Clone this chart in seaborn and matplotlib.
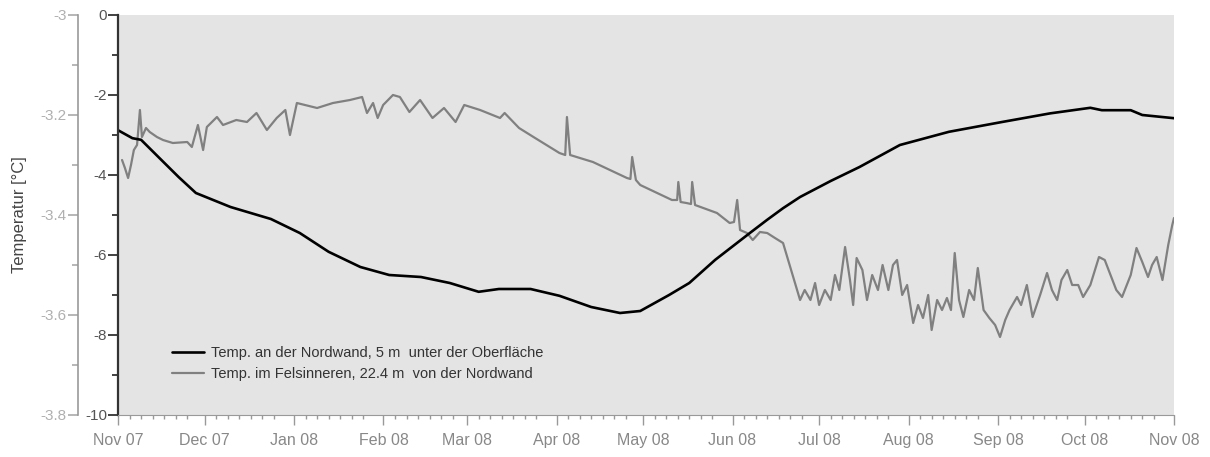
import pandas as pd
import matplotlib
matplotlib.use("Agg")
import matplotlib.pyplot as plt
import matplotlib.dates as mdates
from matplotlib.ticker import MultipleLocator
import seaborn as sns

start = pd.Timestamp("2007-11-01")

# Temp. an der Nordwand (linke innere Achse, 0 .. -10)
nord_days = [0, 5, 8, 14, 21, 27, 39, 53, 63, 73, 84, 94, 105, 115, 125, 132, 143,
             153, 164, 174, 181, 191, 198, 207, 219, 225, 230.5, 236.4, 247, 257,
             271, 288, 306, 323, 337, 341, 351, 355, 366]
nord_temp = [-2.88, -3.08, -3.12, -3.55, -4.05, -4.45, -4.8, -5.1, -5.45, -5.92, -6.3,
             -6.5, -6.55, -6.7, -6.92, -6.85, -6.85, -7.02, -7.3, -7.45, -7.4, -7.0,
             -6.7, -6.12, -5.45, -5.12, -4.83, -4.55, -4.15, -3.8, -3.25, -2.92, -2.68,
             -2.46, -2.32, -2.38, -2.38, -2.5, -2.58]

# Temp. im Felsinneren (linke äussere Achse, -3 .. -3.8)
fels_days = [1.4, 2.4, 3.5, 4.5, 5.5, 6.6, 7.6, 8.3, 9.7, 11, 13.5, 15.6, 19, 24, 25.6,
             27.7, 29.5, 30.8, 34.3, 36.4, 41, 44.7, 48, 51.6, 55, 58, 59.6, 62, 69,
             74.5, 80.4, 84.6, 86.3, 88.4, 90, 91.9, 95.3, 97.7, 101, 104.7, 109, 113,
             117, 120, 125.5, 132.4, 134, 139, 144, 153, 155, 155.6, 156.7, 164.6,
             176.4, 177.6, 178.2, 179.5, 181, 192, 193.8, 194.2, 195, 197, 198.6, 199,
             200, 207.6, 212, 213.5, 214.6, 215.6, 218, 220, 222.5, 225, 227.7, 230.5,
             234, 236.4, 238, 240, 241.6, 243, 245, 247, 248.5, 250, 252, 253.7, 254.8,
             256, 258, 259.6, 261.4, 263.4, 265, 267, 268.6, 270, 271.8, 273.5, 275.6,
             277.3, 279, 280.8, 282, 283.9, 285.6, 287.3, 288.7, 290, 291.5, 293, 295,
             296.7, 298, 300, 302, 304, 305.7, 307.5, 309, 311.6, 313, 315, 317, 319.6,
             322, 323.7, 325.5, 327, 329, 330.7, 332.8, 334.5, 337, 338.6, 340, 342,
             344, 346, 348, 351, 353, 355, 357, 358.4, 360, 362, 364, 365.4, 366]
fels_temp = [-3.29, -3.306, -3.326, -3.30, -3.27, -3.26, -3.19, -3.244, -3.226, -3.234,
             -3.244, -3.25, -3.256, -3.254, -3.264, -3.22, -3.27, -3.224, -3.204, -3.22,
             -3.21, -3.214, -3.196, -3.23, -3.206, -3.19, -3.24, -3.176, -3.186, -3.176,
             -3.17, -3.164, -3.196, -3.176, -3.206, -3.18, -3.16, -3.164, -3.194, -3.17,
             -3.206, -3.186, -3.214, -3.18, -3.19, -3.206, -3.196, -3.226, -3.244,
             -3.276, -3.28, -3.204, -3.28, -3.294, -3.326, -3.328, -3.284, -3.33, -3.34,
             -3.37, -3.37, -3.334, -3.374, -3.376, -3.378, -3.334, -3.38, -3.396, -3.416,
             -3.414, -3.37, -3.43, -3.436, -3.45, -3.434, -3.436, -3.446, -3.456, -3.524,
             -3.57, -3.55, -3.57, -3.536, -3.58, -3.55, -3.57, -3.52, -3.55, -3.464,
             -3.53, -3.58, -3.486, -3.51, -3.57, -3.52, -3.55, -3.50, -3.55, -3.50,
             -3.49, -3.56, -3.54, -3.616, -3.58, -3.606, -3.56, -3.63, -3.57, -3.59,
             -3.566, -3.59, -3.476, -3.57, -3.604, -3.55, -3.57, -3.506, -3.59, -3.606,
             -3.62, -3.644, -3.61, -3.59, -3.564, -3.58, -3.54, -3.604, -3.56, -3.516,
             -3.55, -3.57, -3.53, -3.51, -3.54, -3.54, -3.564, -3.54, -3.51, -3.484,
             -3.49, -3.52, -3.55, -3.564, -3.52, -3.466, -3.494, -3.524, -3.50, -3.484,
             -3.53, -3.46, -3.42, -3.406]

label_nord = "Temp. an der Nordwand, 5 m  unter der Oberfläche"
label_fels = "Temp. im Felsinneren, 22.4 m  von der Nordwand"

nord = pd.DataFrame({"datum": start + pd.to_timedelta(nord_days, unit="D"), "temp": nord_temp})
fels = pd.DataFrame({"datum": start + pd.to_timedelta(fels_days, unit="D"), "temp": fels_temp})

sns.set_style("ticks")
plt.rcParams["font.family"] = ["Liberation Sans", "DejaVu Sans"]
plt.rcParams["axes.unicode_minus"] = False

fig = plt.figure(figsize=(12.1, 4.57), dpi=100)
ax = fig.add_axes([118 / 1210, 42 / 457, 1056 / 1210, 400 / 457])
ax2 = ax.twinx()

# grauer Hintergrund auf ax2, ax obenauf und transparent
ax2.patch.set_visible(True)
ax2.set_facecolor("#e4e4e4")
ax.set_zorder(ax2.get_zorder() + 1)
ax.patch.set_visible(False)

sns.lineplot(data=fels, x="datum", y="temp", ax=ax2, color="#808080", lw=1.6,
             label=label_fels, legend=False)
sns.lineplot(data=nord, x="datum", y="temp", ax=ax, color="black", lw=1.9,
             label=label_nord, legend=False)

ax.set_xlim(pd.Timestamp("2007-11-01"), pd.Timestamp("2008-11-01"))
ax.set_ylim(-10, 0)
ax2.set_ylim(-3.8, -3.0)

ax.yaxis.set_major_locator(MultipleLocator(2))
ax.yaxis.set_minor_locator(MultipleLocator(1))
ax2.yaxis.set_major_locator(MultipleLocator(0.2))
ax2.yaxis.set_minor_locator(MultipleLocator(0.1))
ax2.yaxis.set_major_formatter(plt.FuncFormatter(lambda v, p: f"{v:g}"))

ax.xaxis.set_major_locator(mdates.MonthLocator())
ax.xaxis.set_minor_locator(mdates.DayLocator(bymonthday=[5, 9, 13, 17, 21, 25]))
ax.xaxis.set_major_formatter(mdates.DateFormatter("%b %y"))

for s in ["top", "right"]:
    ax.spines[s].set_visible(False)
    ax2.spines[s].set_visible(False)
ax2.spines["bottom"].set_visible(False)
ax.spines["left"].set_color("#333333")
ax.spines["left"].set_linewidth(1.6)
ax.spines["bottom"].set_color("#999999")

ax2.spines["left"].set_visible(True)
ax2.spines["left"].set_position(("outward", 40 * 0.72))
ax2.spines["left"].set_color("#999999")
ax2.spines["left"].set_linewidth(1.2)
ax2.yaxis.set_ticks_position("left")
ax2.yaxis.set_label_position("left")

ax.tick_params(axis="y", which="major", length=7, width=1.3, color="#333333",
               labelsize=11, labelcolor="#555555", pad=1)
ax.tick_params(axis="y", which="minor", length=4, width=1.3, color="#333333")
ax.tick_params(axis="x", which="major", length=7, width=1, color="#999999",
               labelsize=11.5, labelcolor="#888888", pad=6)
ax.tick_params(axis="x", which="minor", length=3, width=1, color="#999999")
ax2.tick_params(axis="y", which="major", length=7, width=1.2, color="#aaaaaa",
                labelsize=11, labelcolor="#b0b0b0", pad=1)
ax2.tick_params(axis="y", which="minor", length=4, width=1.2, color="#aaaaaa")

ax.set_xlabel("")
ax.set_ylabel("")
ax2.set_ylabel("Temperatur [°C]", fontsize=12, color="#444444", labelpad=10)

h1, l1 = ax.get_legend_handles_labels()
h2, l2 = ax2.get_legend_handles_labels()
ax.legend(h1 + h2, l1 + l2, loc="upper left", bbox_to_anchor=(0.044, 0.19),
          frameon=False, fontsize=10.5, handlelength=2.2, handletextpad=0.5,
          borderpad=0, labelspacing=0.45, labelcolor="#333333")

fig.savefig("out.png", dpi=100)
